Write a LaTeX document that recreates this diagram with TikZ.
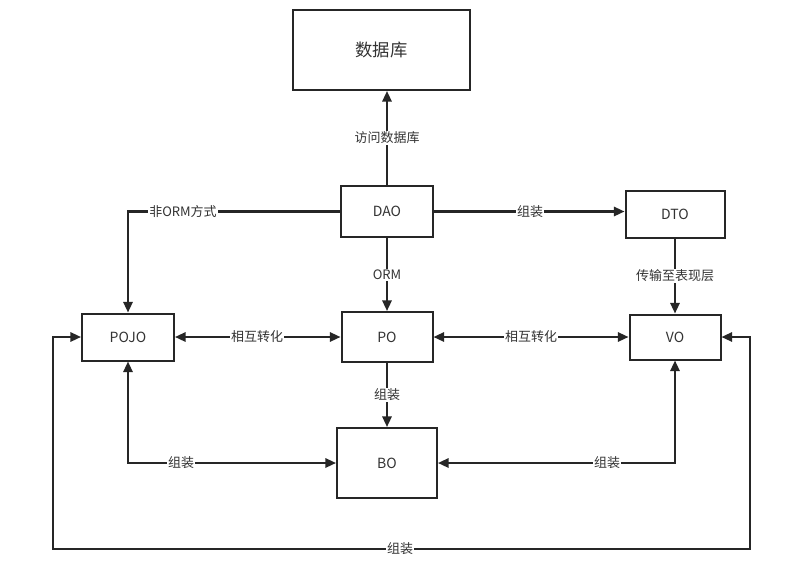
\documentclass[tikz,border=0pt]{standalone}
\usepackage{fontspec}
\setmainfont{Noto Sans CJK SC}
\usetikzlibrary{arrows.meta}
\tikzset{
  box/.style={draw=black!85, line width=1.5pt, fill=white, inner sep=0pt, font=\fontsize{10.5}{12}\selectfont, text=black!80},
  lbl/.style={fill=white, inner sep=1pt, font=\fontsize{9.75}{11}\selectfont, text=black!80},
  conn/.style={draw=black!85, line width=1.6pt, -{Triangle[length=8pt,width=7pt]}},
  conn2/.style={draw=black!85, line width=1.6pt, {Triangle[length=8pt,width=7pt]}-{Triangle[length=8pt,width=7pt]}}
}
\begin{document}
\begin{tikzpicture}[x=0.75pt,y=-0.75pt]
\useasboundingbox[fill=white] (0,0) rectangle (796,565);
\node[box, minimum width=132.75pt, minimum height=60pt, font=\fontsize{13}{15}\selectfont] (db) at (381.5,50) {数据库};
\node[box, minimum width=69pt, minimum height=38.25pt] (dao) at (387,211.5) {DAO};
\node[box, minimum width=74.25pt, minimum height=35.25pt] (dto) at (675,214.5) {DTO};
\node[box, minimum width=69pt, minimum height=35.25pt] (pojo) at (128,337) {POJO};
\node[box, minimum width=68.25pt, minimum height=37.5pt] (po) at (387,337) {PO};
\node[box, minimum width=68.25pt, minimum height=33.75pt] (vo) at (675,337) {VO};
\node[box, minimum width=75pt, minimum height=52.5pt] (bo) at (387,463) {BO};
\coordinate (bl) at (53,549);
\coordinate (br) at (750,549);

\draw[conn] (dao.north) -- (dao.north |- db.south);
\draw[conn] (dao.west) -| (pojo.north);
\draw[conn] (dao.east) -- (dto.west |- dao.east);
\draw[conn] (dao) -- (po);
\draw[conn] (dto) -- (vo);
\draw[conn2] (pojo) -- (po);
\draw[conn2] (po) -- (vo);
\draw[conn] (po) -- (bo);
\draw[conn2] (pojo.south) |- (bo.west);
\draw[conn2] (bo.east) -| (vo.south);
\draw[conn2] (pojo.west) -| (bl) -- (br) |- (vo.east);

\node[lbl] (l1) at (387,138) {访问数据库};
\node[lbl] (l2) at (183,212) {非ORM方式};
\node[lbl] (l3) at (530,211.5) {组装};
\node[lbl] (l4) at (387,275) {ORM};
\node[lbl] (l5) at (675,276) {传输至表现层};
\node[lbl] (l6) at (257,337) {相互转化};
\node[lbl] (l7) at (531,337) {相互转化};
\node[lbl] (l8) at (387,395) {组装};
\node[lbl] (l9) at (181,463) {组装};
\node[lbl] (l10) at (607,463) {组装};
\node[lbl] (l11) at (400,549) {组装};
\end{tikzpicture}
\end{document}
